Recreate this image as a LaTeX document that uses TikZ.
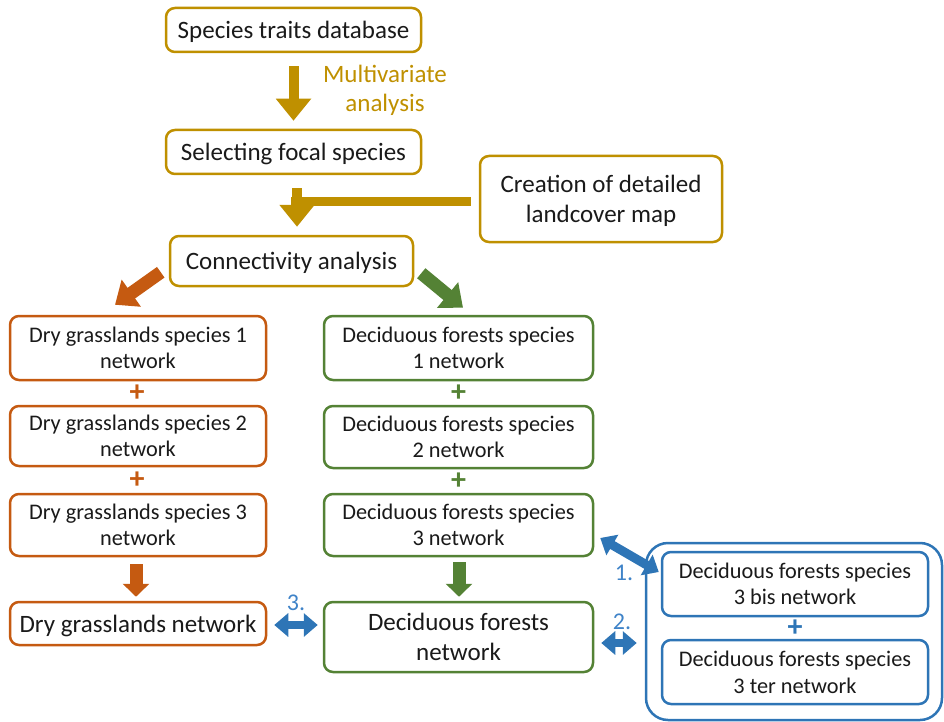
\documentclass[tikz,border=0pt]{standalone}
\usepackage{fontspec}
\setmainfont{Carlito}
\usetikzlibrary{arrows.meta,calc}
\definecolor{cgold}{HTML}{BF9000}
\definecolor{corange}{HTML}{C55A11}
\definecolor{cgreen}{HTML}{548235}
\definecolor{cblue}{HTML}{2E75B6}
\definecolor{clabel}{HTML}{3F83C8}
\definecolor{ink}{HTML}{1A1A1A}
\begin{document}
\begin{tikzpicture}[x=1pt,y=-1pt,
  box/.style={draw, line width=2.5pt, rounded corners=9pt, fill=white,
    align=center, inner sep=0pt, text depth=0pt, text=ink},
  bigtext/.style={font=\fontsize{25}{30}\selectfont},
  smalltext/.style={font=\fontsize{22.3}{26.5}\selectfont},
  goldbox/.style={box, bigtext, draw=cgold},
  orangebox/.style={box, smalltext, draw=corange},
  greenbox/.style={box, smalltext, draw=cgreen},
  bluebox/.style={box, smalltext, draw=cblue},
  goldarrow/.style={cgold, line width=10pt, -{Triangle[width=34pt,length=22pt]}},
  goldbar/.style={cgold, line width=9.5pt},
  slantarrow/.style={line width=13pt, -{Triangle[width=32pt,length=20pt]}},
  downarrow/.style={line width=13pt, -{Triangle[width=26pt,length=13pt]}},
  bluedouble/.style={cblue, line width=8pt,
    {Triangle[width=23pt,length=14pt]}-{Triangle[width=23pt,length=14pt]}},
  plussign/.style={font=\bfseries\fontsize{30}{30}\selectfont, inner sep=0pt},
  steplabel/.style={text=clabel, font=\fontsize{24}{28}\selectfont, inner sep=0pt}
]
\useasboundingbox (0,0) rectangle (944,722);

% workflow boxes
\node[goldbox, minimum width=255pt, minimum height=44pt] (db) at (293.5,30) {Species traits database};
\node[goldbox, minimum width=255pt, minimum height=44pt] (sel) at (293.5,152) {Selecting focal species};
\node[goldbox, minimum width=242pt, minimum height=86pt] (land) at (601,199) {Creation of detailed\\landcover map};
\node[goldbox, minimum width=243pt, minimum height=50pt] (conn) at (291.5,261) {Connectivity analysis};

% dry grasslands branch
\node[orangebox, minimum width=256pt, minimum height=64pt] (dry1) at (138,348) {Dry grasslands species 1\\network};
\node[orangebox, minimum width=256pt, minimum height=60pt] (dry2) at (138,436) {Dry grasslands species 2\\network};
\node[orangebox, minimum width=256pt, minimum height=62pt] (dry3) at (138,525) {Dry grasslands species 3\\network};
\node[orangebox, bigtext, minimum width=256pt, minimum height=43pt] (dryN) at (138,623.5) {Dry grasslands network};

% deciduous forests branch
\node[greenbox, minimum width=269pt, minimum height=64pt] (dec1) at (458.5,348) {Deciduous forests species\\1 network};
\node[greenbox, minimum width=269pt, minimum height=62pt] (dec2) at (458.5,437) {Deciduous forests species\\2 network};
\node[greenbox, minimum width=269pt, minimum height=62pt] (dec3) at (458.5,525) {Deciduous forests species\\3 network};
\node[greenbox, bigtext, minimum width=269pt, minimum height=70pt] (decN) at (458.5,637) {Deciduous forests\\network};

% alternative species 3 networks
\node[draw=cblue, line width=2.5pt, rounded corners=22pt, minimum width=296pt, minimum height=177pt, inner sep=0pt] (alt) at (794,631.5) {};
\node[bluebox, minimum width=266pt, minimum height=64pt] (bis) at (795,584) {Deciduous forests species\\3 bis network};
\node[bluebox, minimum width=266pt, minimum height=64pt] (ter) at (795,672) {Deciduous forests species\\3 ter network};

% top arrows
\draw[goldarrow, shorten <=13pt, shorten >=8pt] (db) -- (sel);
\node[text=cgold, align=center, font=\fontsize{25}{29}\selectfont] (mva) at (385,90) {Multivariate\\analysis};
\coordinate (bendtop) at (297,188);
\coordinate (bendbar) at (291,201.5);
\draw[goldbar] ([xshift=-8pt]land.west |- bendbar) -- (bendbar);
\draw[goldarrow] (bendtop) -- ([yshift=8pt]conn.north -| bendtop);

% branching arrows
\draw[corange, slantarrow] ($(conn.south west)+(-8,-15)$) -- ($(dry1.north)+(-23,-10)$);
\draw[cgreen, slantarrow] ($(conn.south east)+(7,-14)$) -- ($(dec1.north)+(4.5,-7)$);

% plus signs
\node[plussign, text=corange] (pd1) at ($(dry1.south)!0.5!(dry2.north)+(-1,0)$) {+};
\node[plussign, text=corange] (pd2) at ($(dry2.south)!0.5!(dry3.north)+(-1,0)$) {+};
\node[plussign, text=cgreen] (pf1) at ($(dec1.south)!0.5!(dec2.north)$) {+};
\node[plussign, text=cgreen] (pf2) at ($(dec2.south)!0.5!(dec3.north)$) {+};
\node[plussign, text=cblue] (pb) at ($(bis.south)!0.5!(ter.north)$) {+};

% merging arrows
\draw[corange, downarrow] ($(dry3.south)+(-2,7)$) -- ($(dryN.north)+(-2,-4)$);
\draw[cgreen, downarrow] ($(dec3.south)+(0.5,5)$) -- ($(decN.north)+(0.5,-4)$);

% comparison arrows
\draw[bluedouble] ($(dryN.east)+(7,1.5)$) -- ($(decN.west |- dryN.east)+(-5,1.5)$);
\node[steplabel] (l3) at (296,603) {3.};
\draw[bluedouble] ($(decN.east)+(7,6)$) -- ($(alt.west |- decN.east)+(-8,6)$);
\node[steplabel] (l2) at (622,622) {2.};
\draw[bluedouble, line width=9pt] ($(dec3.east)+(6,13)$) -- ($(bis.west)+(-2,-12)$);
\node[steplabel] (l1) at (624,573) {1.};
\end{tikzpicture}
\end{document}
